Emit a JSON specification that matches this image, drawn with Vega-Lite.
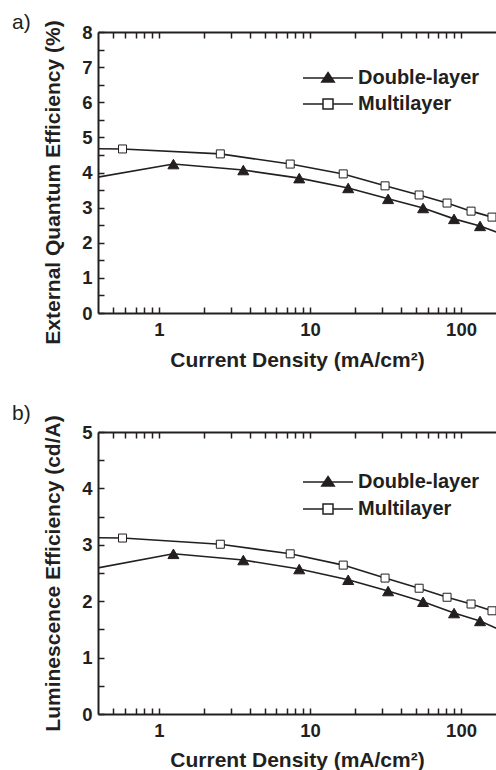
{
  "$schema": "https://vega.github.io/schema/vega-lite/v6.json",
  "padding": {"left": 12, "top": 11, "right": 0, "bottom": 0},
  "spacing": 31,
  "config": {
    "font": "Liberation Sans",
    "view": {"stroke": null},
    "axis": {
      "domainColor": "#231f20", "domainWidth": 2, "tickColor": "#231f20", "tickWidth": 1.5,
      "labelFont": "Liberation Sans", "labelFontSize": 18.5, "labelFontWeight": "bold", "labelColor": "#231f20",
      "titleFont": "Liberation Sans", "titleFontSize": 21, "titleFontWeight": "bold", "titleColor": "#231f20",
      "grid": false, "labelOverlap": false, "labelFlush": false
    },
    "legend": {
      "orient": "none", "title": null, "symbolSize": 2500, "labelFont": "Liberation Sans", "labelFontSize": 20, "labelFontWeight": "bold",
      "labelColor": "#231f20", "labelOffset": 4, "padding": 0
    },
    "title": {"font": "Liberation Sans", "fontSize": 21, "fontWeight": "normal", "color": "#231f20", "anchor": "start", "frame": "group", "baseline": "alphabetic"}
  },
  "datasets": {
    "eqe": [
      {"J": 0.3, "EQE": 3.78, "series": "Double-layer"},
      {"J": 1.247, "EQE": 4.24, "series": "Double-layer"},
      {"J": 3.62, "EQE": 4.07, "series": "Double-layer"},
      {"J": 8.49, "EQE": 3.84, "series": "Double-layer"},
      {"J": 17.9, "EQE": 3.56, "series": "Double-layer"},
      {"J": 32.9, "EQE": 3.25, "series": "Double-layer"},
      {"J": 56.1, "EQE": 2.99, "series": "Double-layer"},
      {"J": 89.9, "EQE": 2.68, "series": "Double-layer"},
      {"J": 133.6, "EQE": 2.48, "series": "Double-layer"},
      {"J": 230, "EQE": 2.1, "series": "Double-layer"},
      {"J": 0.3, "EQE": 4.68, "series": "Multilayer"},
      {"J": 0.574, "EQE": 4.67, "series": "Multilayer"},
      {"J": 2.55, "EQE": 4.53, "series": "Multilayer"},
      {"J": 7.4, "EQE": 4.24, "series": "Multilayer"},
      {"J": 16.6, "EQE": 3.96, "series": "Multilayer"},
      {"J": 31.4, "EQE": 3.62, "series": "Multilayer"},
      {"J": 52.8, "EQE": 3.36, "series": "Multilayer"},
      {"J": 80.8, "EQE": 3.13, "series": "Multilayer"},
      {"J": 116.5, "EQE": 2.9, "series": "Multilayer"},
      {"J": 160.3, "EQE": 2.73, "series": "Multilayer"},
      {"J": 230, "EQE": 2.54, "series": "Multilayer"}
    ],
    "le": [
      {"J": 0.3, "LE": 2.53, "series": "Double-layer"},
      {"J": 1.247, "LE": 2.84, "series": "Double-layer"},
      {"J": 3.62, "LE": 2.73, "series": "Double-layer"},
      {"J": 8.49, "LE": 2.57, "series": "Double-layer"},
      {"J": 17.9, "LE": 2.38, "series": "Double-layer"},
      {"J": 32.9, "LE": 2.18, "series": "Double-layer"},
      {"J": 56.1, "LE": 1.99, "series": "Double-layer"},
      {"J": 89.9, "LE": 1.79, "series": "Double-layer"},
      {"J": 133.6, "LE": 1.65, "series": "Double-layer"},
      {"J": 230, "LE": 1.37, "series": "Double-layer"},
      {"J": 0.3, "LE": 3.13, "series": "Multilayer"},
      {"J": 0.574, "LE": 3.12, "series": "Multilayer"},
      {"J": 2.55, "LE": 3.01, "series": "Multilayer"},
      {"J": 7.4, "LE": 2.84, "series": "Multilayer"},
      {"J": 16.6, "LE": 2.64, "series": "Multilayer"},
      {"J": 31.4, "LE": 2.41, "series": "Multilayer"},
      {"J": 52.8, "LE": 2.23, "series": "Multilayer"},
      {"J": 80.8, "LE": 2.07, "series": "Multilayer"},
      {"J": 116.5, "LE": 1.95, "series": "Multilayer"},
      {"J": 160.3, "LE": 1.83, "series": "Multilayer"},
      {"J": 230, "LE": 1.69, "series": "Multilayer"}
    ]
  },
  "vconcat": [
    {
      "width": 398, "height": 281,
      "title": {"text": "a)", "dx": -86, "offset": -13},
      "data": {"name": "eqe"},
      "layer": [
        {
          "mark": {"type": "line", "color": "#231f20", "strokeWidth": 1.6, "clip": true},
          "encoding": {
            "x": {"field": "J", "type": "quantitative", "scale": {"type": "log", "domain": [0.395, 170.4], "nice": false},
              "axis": {"orient": "bottom", "title": "Current Density (mA/cm²)", "values": [0.5,0.6,0.7,0.8,0.9,1,2,3,4,5,6,7,8,9,10,20,30,40,50,60,70,80,90,100],
                "tickCount": 100, "format": "~g", "labelExpr": "(datum.value == 1 || datum.value == 10 || datum.value == 100) ? datum.label : ''",
                "tickSize": -6, "labelOverlap": false, "labelPadding": 13, "titlePadding": 11,
                "encode": {"ticks": {"y2": {"condition": {"test": "datum.value == 1 || datum.value == 10 || datum.value == 100", "value": -6}, "value": -3.5}}}}},
            "y": {"field": "EQE", "type": "quantitative", "scale": {"domain": [0, 8], "nice": false},
              "axis": {"title": "External Quantum Efficiency (%)", "titleY": 150, "values": [0,0.5,1,1.5,2,2.5,3,3.5,4,4.5,5,5.5,6,6.5,7,7.5,8],
                "tickCount": 100, "format": "~g", "labelExpr": "datum.value % 1 == 0 ? datum.label : ''",
                "tickSize": -6, "labelOverlap": false, "labelPadding": 12, "titlePadding": 18,
                "encode": {"ticks": {"x2": {"condition": {"test": "datum.value % 1 == 0", "value": 6}, "value": 3.5}}}}},
            "detail": {"field": "series"}
          }
        },
        {
          "mark": {"type": "point", "filled": true, "stroke": "#231f20", "strokeWidth": 1, "opacity": 1, "clip": true},
          "encoding": {
            "x": {"field": "J", "type": "quantitative",
              "axis": {"orient": "top", "title": null, "labels": false, "values": [0.5,0.6,0.7,0.8,0.9,1,2,3,4,5,6,7,8,9,10,20,30,40,50,60,70,80,90,100],
                "tickCount": 100, "tickSize": -6,
                "encode": {"ticks": {"y2": {"condition": {"test": "datum.value == 1 || datum.value == 10 || datum.value == 100", "value": 6}, "value": 3.5}}}}},
            "y": {"field": "EQE", "type": "quantitative"},
            "shape": {"field": "series", "scale": {"domain": ["Double-layer", "Multilayer"], "range": ["triangle-up", "square"]}, "legend": null},
            "fill": {"field": "series", "scale": {"domain": ["Double-layer", "Multilayer"], "range": ["#231f20", "white"]}, "legend": null},
            "size": {"field": "series", "scale": {"domain": ["Double-layer", "Multilayer"], "range": [121, 64]}, "legend": null}
          }
        },
        {
          "transform": [{"filter": "false"}],
          "mark": {"type": "point", "filled": true, "stroke": "#231f20", "strokeWidth": 1.5, "opacity": 1},
          "encoding": {
            "shape": {"field": "series", "scale": {"domain": ["Double-layer"], "range": ["M-1,0H1M0,-0.22L0.25,0.16L-0.25,0.16Z"]},
              "legend": {"legendX": 204, "legendY": 20, "encode": {"symbols": {"stroke": {"value": "#231f20"}, "strokeWidth": {"value": 1.5}, "opacity": {"value": 1}, "fillOpacity": {"value": 1}, "strokeOpacity": {"value": 1}}}}},
            "fill": {"field": "series", "scale": {"domain": ["Double-layer"], "range": ["#231f20"]},
              "legend": {"legendX": 204, "legendY": 20, "encode": {"symbols": {"stroke": {"value": "#231f20"}, "strokeWidth": {"value": 1.5}, "opacity": {"value": 1}, "fillOpacity": {"value": 1}, "strokeOpacity": {"value": 1}}}}}
          }
        },
        {
          "transform": [{"filter": "false"}],
          "mark": {"type": "point", "filled": true, "stroke": "#231f20", "strokeWidth": 1.5, "opacity": 1},
          "encoding": {
            "shape": {"field": "series", "scale": {"domain": ["Multilayer"], "range": ["M-1,0H-0.2M0.2,0H1M-0.2,-0.2H0.2V0.2H-0.2Z"]},
              "legend": {"legendX": 204, "legendY": 46, "encode": {"symbols": {"stroke": {"value": "#231f20"}, "strokeWidth": {"value": 1.5}, "opacity": {"value": 1}, "fillOpacity": {"value": 1}, "strokeOpacity": {"value": 1}}}}},
            "fill": {"field": "series", "scale": {"domain": ["Multilayer"], "range": ["white"]},
              "legend": {"legendX": 204, "legendY": 46, "encode": {"symbols": {"stroke": {"value": "#231f20"}, "strokeWidth": {"value": 1.5}, "opacity": {"value": 1}, "fillOpacity": {"value": 1}, "strokeOpacity": {"value": 1}}}}}
          }
        }
      ],
      "resolve": {"scale": {"shape": "independent", "fill": "independent", "size": "independent"}}
    },
    {
      "width": 398, "height": 282,
      "title": {"text": "b)", "dx": -86, "offset": -9},
      "data": {"name": "le"},
      "layer": [
        {
          "mark": {"type": "line", "color": "#231f20", "strokeWidth": 1.6, "clip": true},
          "encoding": {
            "x": {"field": "J", "type": "quantitative", "scale": {"type": "log", "domain": [0.395, 170.4], "nice": false},
              "axis": {"orient": "bottom", "title": "Current Density (mA/cm²)", "values": [0.5,0.6,0.7,0.8,0.9,1,2,3,4,5,6,7,8,9,10,20,30,40,50,60,70,80,90,100],
                "tickCount": 100, "format": "~g", "labelExpr": "(datum.value == 1 || datum.value == 10 || datum.value == 100) ? datum.label : ''",
                "tickSize": -6, "labelOverlap": false, "labelPadding": 13, "titlePadding": 10,
                "encode": {"ticks": {"y2": {"condition": {"test": "datum.value == 1 || datum.value == 10 || datum.value == 100", "value": -6}, "value": -3.5}}}}},
            "y": {"field": "LE", "type": "quantitative", "scale": {"domain": [0, 5], "nice": false},
              "axis": {"title": "Luminescence Efficiency (cd/A)", "values": [0,0.5,1,1.5,2,2.5,3,3.5,4,4.5,5],
                "tickCount": 100, "format": "~g", "labelExpr": "datum.value % 1 == 0 ? datum.label : ''",
                "tickSize": -6, "labelOverlap": false, "labelPadding": 12, "titlePadding": 18,
                "encode": {"ticks": {"x2": {"condition": {"test": "datum.value % 1 == 0", "value": 6}, "value": 3.5}}}}},
            "detail": {"field": "series"}
          }
        },
        {
          "mark": {"type": "point", "filled": true, "stroke": "#231f20", "strokeWidth": 1, "opacity": 1, "clip": true},
          "encoding": {
            "x": {"field": "J", "type": "quantitative",
              "axis": {"orient": "top", "title": null, "labels": false, "values": [0.5,0.6,0.7,0.8,0.9,1,2,3,4,5,6,7,8,9,10,20,30,40,50,60,70,80,90,100],
                "tickCount": 100, "tickSize": -6,
                "encode": {"ticks": {"y2": {"condition": {"test": "datum.value == 1 || datum.value == 10 || datum.value == 100", "value": 6}, "value": 3.5}}}}},
            "y": {"field": "LE", "type": "quantitative"},
            "shape": {"field": "series", "scale": {"domain": ["Double-layer", "Multilayer"], "range": ["triangle-up", "square"]}, "legend": null},
            "fill": {"field": "series", "scale": {"domain": ["Double-layer", "Multilayer"], "range": ["#231f20", "white"]}, "legend": null},
            "size": {"field": "series", "scale": {"domain": ["Double-layer", "Multilayer"], "range": [121, 64]}, "legend": null}
          }
        },
        {
          "transform": [{"filter": "false"}],
          "mark": {"type": "point", "filled": true, "stroke": "#231f20", "strokeWidth": 1.5, "opacity": 1},
          "encoding": {
            "shape": {"field": "series", "scale": {"domain": ["Double-layer"], "range": ["M-1,0H1M0,-0.22L0.25,0.16L-0.25,0.16Z"]},
              "legend": {"legendX": 204, "legendY": 24, "encode": {"symbols": {"stroke": {"value": "#231f20"}, "strokeWidth": {"value": 1.5}, "opacity": {"value": 1}, "fillOpacity": {"value": 1}, "strokeOpacity": {"value": 1}}}}},
            "fill": {"field": "series", "scale": {"domain": ["Double-layer"], "range": ["#231f20"]},
              "legend": {"legendX": 204, "legendY": 24, "encode": {"symbols": {"stroke": {"value": "#231f20"}, "strokeWidth": {"value": 1.5}, "opacity": {"value": 1}, "fillOpacity": {"value": 1}, "strokeOpacity": {"value": 1}}}}}
          }
        },
        {
          "transform": [{"filter": "false"}],
          "mark": {"type": "point", "filled": true, "stroke": "#231f20", "strokeWidth": 1.5, "opacity": 1},
          "encoding": {
            "shape": {"field": "series", "scale": {"domain": ["Multilayer"], "range": ["M-1,0H-0.2M0.2,0H1M-0.2,-0.2H0.2V0.2H-0.2Z"]},
              "legend": {"legendX": 204, "legendY": 51, "encode": {"symbols": {"stroke": {"value": "#231f20"}, "strokeWidth": {"value": 1.5}, "opacity": {"value": 1}, "fillOpacity": {"value": 1}, "strokeOpacity": {"value": 1}}}}},
            "fill": {"field": "series", "scale": {"domain": ["Multilayer"], "range": ["white"]},
              "legend": {"legendX": 204, "legendY": 51, "encode": {"symbols": {"stroke": {"value": "#231f20"}, "strokeWidth": {"value": 1.5}, "opacity": {"value": 1}, "fillOpacity": {"value": 1}, "strokeOpacity": {"value": 1}}}}}
          }
        }
      ],
      "resolve": {"scale": {"shape": "independent", "fill": "independent", "size": "independent"}}
    }
  ]
}
